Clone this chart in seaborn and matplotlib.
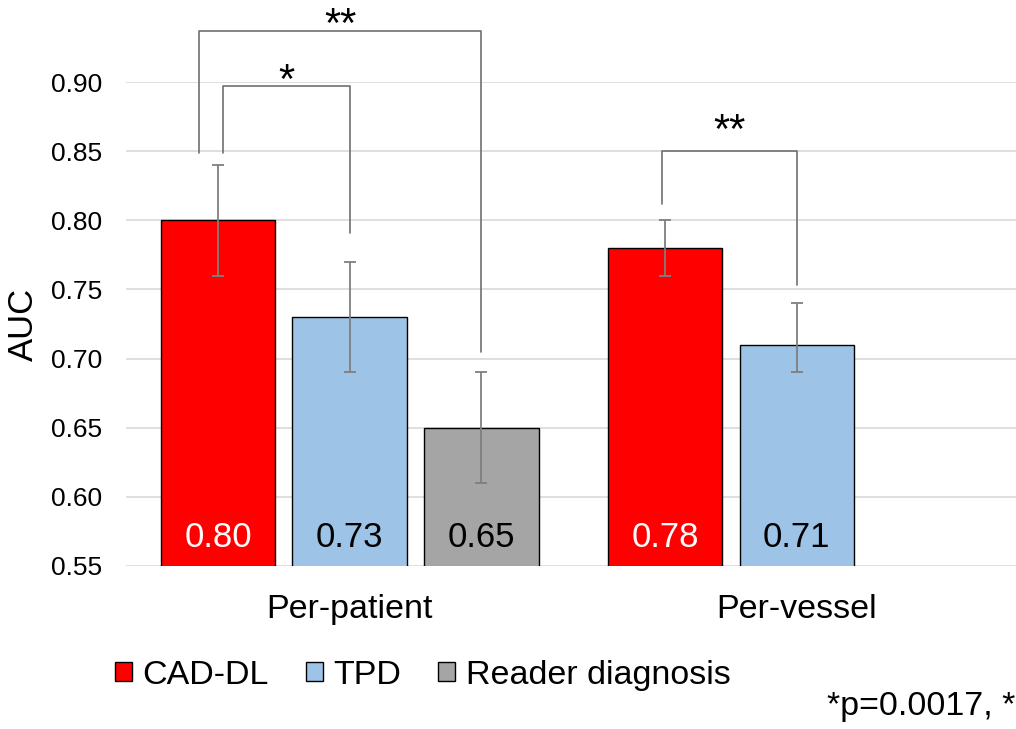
import numpy as np
import pandas as pd
import matplotlib
matplotlib.use("Agg")
import matplotlib.pyplot as plt
import seaborn as sns
from matplotlib.patches import Patch

categories = ["Per-patient", "Per-vessel"]
methods = ["CAD-DL", "TPD", "Reader diagnosis"]
auc_cad = [0.80, 0.78]
auc_tpd = [0.73, 0.71]
auc_reader = [0.65, np.nan]
low_cad = [0.76, 0.76]
high_cad = [0.84, 0.80]
low_tpd = [0.69, 0.69]
high_tpd = [0.77, 0.74]
low_reader = [0.61, np.nan]
high_reader = [0.69, np.nan]
colors = ["#FF0000", "#9DC3E6", "#A5A5A5"]
label_colors = ["white", "black", "black"]
yticks = [0.55, 0.60, 0.65, 0.70, 0.75, 0.80, 0.85, 0.90]

rows = []
for m, vals, lo, hi in zip(methods, [auc_cad, auc_tpd, auc_reader],
                           [low_cad, low_tpd, low_reader],
                           [high_cad, high_tpd, high_reader]):
    for c, v, l, h in zip(categories, vals, lo, hi):
        rows.append({"category": c, "method": m, "auc": v, "lo": l, "hi": h})
df = pd.DataFrame(rows)

sns.set_theme(style="white")
plt.rcParams["font.family"] = ["Liberation Sans", "DejaVu Sans"]
plt.rcParams["text.color"] = "black"
plt.rcParams["xtick.color"] = "black"
plt.rcParams["ytick.color"] = "black"
plt.rcParams["axes.labelcolor"] = "black"

fig = plt.figure(figsize=(10.16, 7.29), dpi=100)
ax = fig.add_axes([0.124, 0.2236, 0.876, 0.6639])

sns.barplot(data=df, x="category", y="auc", hue="method", order=categories,
            hue_order=methods, palette=colors, saturation=1, width=0.883, gap=0.13,
            errorbar=None, edgecolor="black", linewidth=1.0, ax=ax,
            legend=False, zorder=3)

ax.set_ylim(0.55, 0.90)
ax.set_xlim(-0.5, 1.49)
ax.set_yticks(yticks)
ax.set_yticklabels([f"{t:.2f}" for t in yticks], fontsize=19)
ax.tick_params(axis="y", length=0, pad=17)
ax.tick_params(axis="x", length=0, pad=20, labelsize=24.5)
ax.yaxis.grid(True, color="#D9D9D9", linewidth=1.2, zorder=0)
ax.set_axisbelow(True)
for s in ax.spines.values():
    s.set_visible(False)
ax.set_xlabel("")
ax.set_ylabel("AUC", fontsize=25, labelpad=8)

# bar centers, per method and category
centers = {}
for mi, (m, cont) in enumerate(zip(methods, ax.containers)):
    sub = df[df.method == m].dropna(subset=["auc"])
    for (_, r), bar in zip(sub.iterrows(), cont.patches):
        cx = bar.get_x() + bar.get_width() / 2
        centers[(m, r.category)] = cx
        ax.errorbar(cx, r.auc, yerr=[[r.auc - r.lo], [r.hi - r.auc]],
                    fmt="none", ecolor="#7F7F7F", elinewidth=1.3,
                    capsize=4, capthick=1.3, zorder=4)
        ax.text(cx, 0.5705, f"{r.auc:.2f}", ha="center", va="center",
                fontsize=25, color=label_colors[mi], zorder=5)

# significance brackets: (left bar, right bar, left offset, left bottom, top, right bottom, label, text baseline)
brackets = [
    (("CAD-DL", "Per-patient"), ("TPD", "Per-patient"), 0.011, 0.849, 0.897, 0.791, "*", 0.892),
    (("CAD-DL", "Per-patient"), ("Reader diagnosis", "Per-patient"), -0.043, 0.849, 0.937, 0.705, "**", 0.9326),
    (("CAD-DL", "Per-vessel"), ("TPD", "Per-vessel"), -0.007, 0.812, 0.850, 0.753, "**", 0.8559),
]
for lk, rk, off, lb, top, rb, lab, ty in brackets:
    x1 = centers[lk] + off
    x2 = centers[rk]
    ax.plot([x1, x1, x2, x2], [lb, top, top, rb], color="#707070",
            linewidth=1.2, clip_on=False, zorder=6)
    ax.text((x1 + x2) / 2, ty, lab, ha="center", va="baseline",
            fontsize=30, color="black", clip_on=False)

handles = [Patch(facecolor=c, edgecolor="black", linewidth=1.0) for c in colors]
fig.legend(handles, methods, loc="center", bbox_to_anchor=(0.416, 0.074),
           ncol=3, frameon=False, fontsize=24.5, handlelength=0.5,
           handleheight=0.5, handletextpad=0.3, columnspacing=1.1)

fig.text(0.999, 0.019, "*p=0.0017, *", ha="right", va="baseline", fontsize=24.5)

fig.savefig("out.png", dpi=100)
